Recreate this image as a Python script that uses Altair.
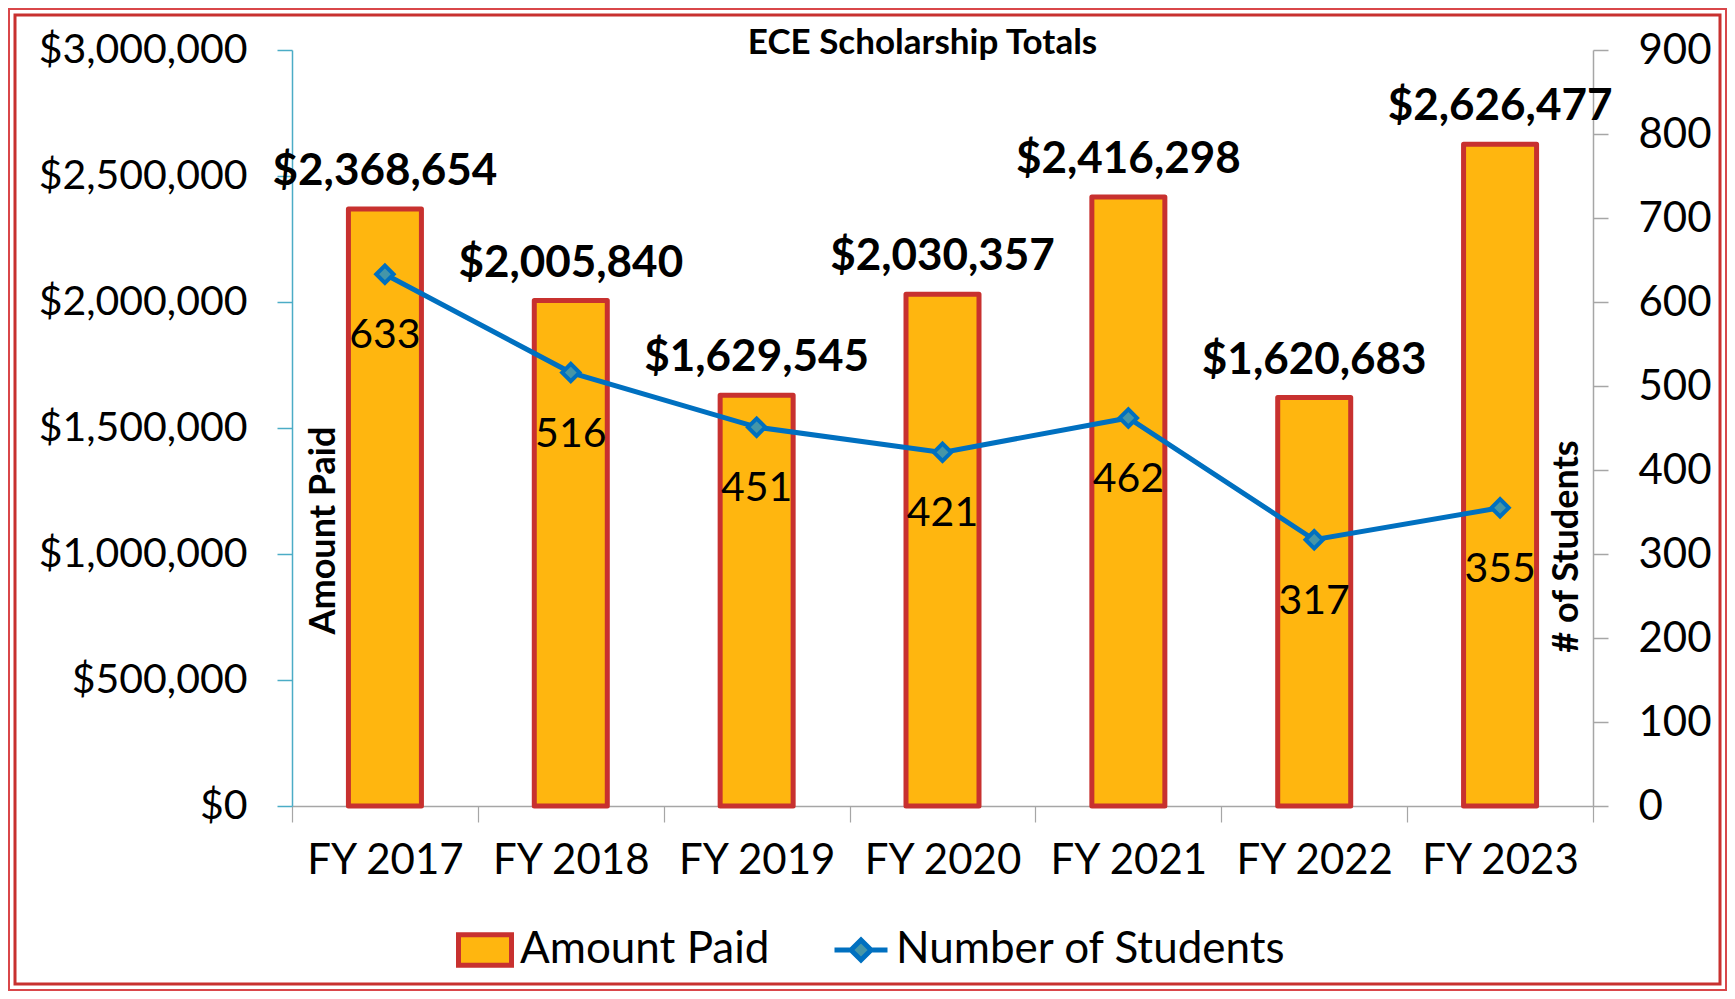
import altair as alt
import pandas as pd

# ---------------- data ----------------
years = ["FY 2017", "FY 2018", "FY 2019", "FY 2020", "FY 2021", "FY 2022", "FY 2023"]
amount_paid = [2368654, 2005840, 1629545, 2030357, 2416298, 1620683, 2626477]
num_students = [633, 516, 451, 421, 462, 317, 355]
amount_ticks = [0, 500000, 1000000, 1500000, 2000000, 2500000, 3000000]
student_ticks = [0, 100, 200, 300, 400, 500, 600, 700, 800, 900]
bar_series = "Amount Paid"
line_series = "Number of Students"
chart_title = "ECE Scholarship Totals"
left_title = "Amount Paid"
right_title = "# of Students"

df = pd.DataFrame({
    "year": years,
    "amount": amount_paid,
    "students": num_students,
    "s_bar": [bar_series] * len(years),
    "s_line": [line_series] * len(years),
})

# ---------------- style ----------------
FONT = "Lato"
GOLD = "#FFB60F"
RED = "#C8312F"
BLUE = "#0070C0"
TEAL_FILL = "#4596A8"
TEAL_AXIS = "#4BACC6"
GRAY = "#A6A6A6"

W, H = 1301, 756
PAD = {"left": 284, "top": 42, "right": 134, "bottom": 185}

x_enc = alt.X(
    "year:N", sort=years,
    scale=alt.Scale(paddingInner=0, paddingOuter=0),
    axis=alt.Axis(
        title=None, labelAngle=0, tickBand="extent",
        domainColor=GRAY, domainWidth=1.5, tickColor=GRAY, tickWidth=1.2, tickSize=16,
        labelFontSize=42, labelFont=FONT, labelColor="black", labelPadding=18,
        labelLimit=0,
    ),
)

left_axis = alt.Axis(
    orient="left", values=amount_ticks, format="$,.0f", grid=False,
    domainColor=TEAL_AXIS, domainWidth=1.5, tickColor=TEAL_AXIS, tickWidth=1.5, tickSize=15,
    labelFontSize=41, labelFont=FONT, labelColor="black", labelPadding=30, labelLimit=0,
    title=left_title, titleFontSize=36, titleFont=FONT, titleFontWeight="bold",
    titleColor="black", titleAngle=270, titleX=31, titleY=480,
    titleAlign="center", titleBaseline="middle",
)

right_axis = alt.Axis(
    orient="right", values=student_ticks, grid=False,
    domainColor=GRAY, domainWidth=1.5, tickColor=GRAY, tickWidth=1.5, tickSize=15,
    labelFontSize=42, labelFont=FONT, labelColor="black", labelPadding=30, labelLimit=0,
    title=right_title, titleFontSize=36, titleFont=FONT, titleFontWeight="bold",
    titleColor="black", titleAngle=270, titleX=-27, titleY=496,
    titleAlign="center", titleBaseline="middle",
)

base = alt.Chart(df).encode(x=x_enc)

bars = base.mark_bar(size=73, stroke=RED, strokeWidth=5, strokeJoin="round").encode(
    y=alt.Y("amount:Q", scale=alt.Scale(domain=[0, 3000000], nice=False), axis=left_axis),
    fill=alt.Fill(
        "s_bar:N",
        scale=alt.Scale(domain=[bar_series], range=[GOLD]),
        legend=alt.Legend(
            title=None, orient="none", legendX=164, legendY=871, padding=0,
            symbolType="M-1,-0.58H1V0.58H-1Z", symbolSize=2809,
            symbolStrokeColor=RED, symbolStrokeWidth=5,
            labelFontSize=44, labelFont=FONT, labelColor="black", labelOffset=6,
            labelLimit=0,
        ),
    ),
)

bar_text = base.mark_text(
    font=FONT, fontSize=44, fontWeight="bold", color="black",
    baseline="middle", dy=-37,
).encode(
    y=alt.Y("amount:Q"),
    text=alt.Text("amount:Q", format="$,.0f"),
)

line = base.mark_line(strokeWidth=5).encode(
    y=alt.Y("students:Q", scale=alt.Scale(domain=[0, 900], nice=False), axis=right_axis),
    stroke=alt.Stroke(
        "s_line:N",
        scale=alt.Scale(domain=[line_series], range=[BLUE]),
        legend=alt.Legend(
            title=None, orient="none", legendX=540, legendY=871, padding=0,
            symbolType="M-1,0H-0.38M0.38,0H1M-0.38,0L0,-0.38L0.38,0L0,0.38Z",
            symbolSize=2809, symbolStrokeWidth=5, symbolFillColor=TEAL_FILL,
            labelFontSize=44, labelFont=FONT, labelColor="black", labelOffset=6,
            labelLimit=0,
        ),
    ),
)

pts = base.mark_point(
    shape="diamond", size=300, filled=True, fill=TEAL_FILL, stroke=BLUE,
    strokeWidth=4, opacity=1,
).encode(y=alt.Y("students:Q"))

line_text = base.mark_text(
    font=FONT, fontSize=41, color="black", baseline="middle", dy=62,
).encode(
    y=alt.Y("students:Q"),
    text=alt.Text("students:Q"),
)

frame_df = pd.DataFrame({"k": [0]})
border_outer = alt.Chart(frame_df).mark_rect(
    fill=None, filled=False, stroke="#D9474A", strokeWidth=2
).encode(
    x=alt.value(-283), x2=alt.value(W + PAD["right"] - 1),
    y=alt.value(-41), y2=alt.value(H + PAD["bottom"] - 1),
)
border_inner = alt.Chart(frame_df).mark_rect(
    fill=None, filled=False, stroke="#C8312F", strokeWidth=3
).encode(
    x=alt.value(-277), x2=alt.value(W + PAD["right"] - 7),
    y=alt.value(-35), y2=alt.value(H + PAD["bottom"] - 7),
)

left_layer = alt.layer(bars, bar_text)
right_layer = alt.layer(line, pts, line_text)

chart = alt.layer(border_outer, border_inner, left_layer, right_layer).resolve_scale(
    y="independent"
).properties(
    width=W, height=H,
    padding=PAD,
    autosize=alt.AutoSizeParams(type="none"),
    background="white",
    title=alt.TitleParams(
        chart_title, font=FONT, fontSize=35, fontWeight="bold", color="black",
        anchor="middle", dx=-20, dy=57,
    ),
).configure_view(strokeWidth=0)

chart.save("out.html", embed_options={"renderer": "svg", "actions": False})
